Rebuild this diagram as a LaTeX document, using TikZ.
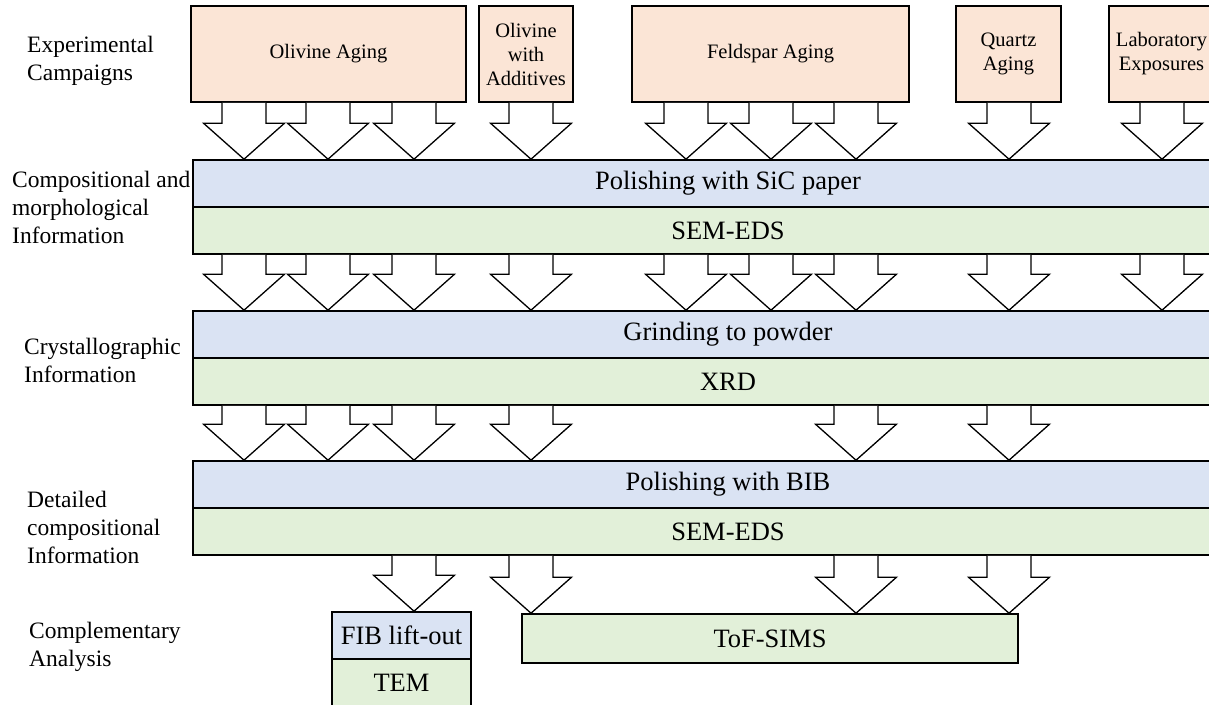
\documentclass[tikz,border=0pt]{standalone}
\usepackage{fontspec}
\setmainfont{Liberation Serif}
\usetikzlibrary{calc}

\definecolor{campfill}{HTML}{FBE5D6}
\definecolor{prepfill}{HTML}{DAE3F3}
\definecolor{measfill}{HTML}{E2F0D9}

\tikzset{
  box/.style={draw=black, line width=1.6pt, inner sep=0pt, align=center},
  campbox/.style={box, fill=campfill, font=\fontsize{20.5}{24}\selectfont},
  prepbox/.style={box, fill=prepfill, font=\fontsize{26.5}{30}\selectfont},
  measbox/.style={box, fill=measfill, font=\fontsize{26.5}{30}\selectfont},
  rowlabel/.style={anchor=west, align=left, inner sep=0pt, font=\fontsize{23.5}{28}\selectfont},
  blockarrow/.style={draw=black, fill=white, line width=1.3pt, line join=miter},
}

% hollow block arrow at x=#1 from node #2 down to node #3
\newcommand{\blockarr}[3]{%
  \draw[blockarrow] let \p1=(#2.south), \p2=(#3.north) in
    ({(#1-22)*1pt},\y1) -- ({(#1-22)*1pt},\y2+36pt) -- ({(#1-40.5)*1pt},\y2+36pt)
    -- ({#1*1pt},\y2) -- ({(#1+40.5)*1pt},\y2+36pt) -- ({(#1+22)*1pt},\y2+36pt)
    -- ({(#1+22)*1pt},\y1);
}

\begin{document}
\begin{tikzpicture}[x=1pt, y=-1pt]
  \useasboundingbox (0,0) rectangle (1209,704);
  \clip (0,0) rectangle (1209,704);

  % row labels
  \node[rowlabel] (lblexp) at (27,61) {Experimental\\Campaigns};
  \node[rowlabel] (lblcomp) at (12,207) {Compositional and\\morphological\\Information};
  \node[rowlabel] (lblcryst) at (24,360) {Crystallographic\\Information};
  \node[rowlabel] (lbldet) at (27,527) {Detailed\\compositional\\Information};
  \node[rowlabel] (lblcompl) at (29,647) {Complementary\\Analysis};

  % experimental campaigns
  \node[campbox, minimum width=275pt, minimum height=96pt] (olvage) at (328.5,54) {Olivine Aging};
  \node[campbox, minimum width=94pt, minimum height=96pt] (olvadd) at (526,54) {Olivine\\with\\Additives};
  \node[campbox, minimum width=277pt, minimum height=96pt] (feldage) at (770.5,54) {Feldspar Aging};
  \node[campbox, minimum width=105pt, minimum height=96pt] (qtzage) at (1008.5,54) {Quartz\\Aging};
  \node[campbox, minimum width=105pt, minimum height=96pt] (labexp) at (1161.5,54) {Laboratory\\Exposures};

  % preparation / measurement bands
  \node[prepbox, minimum width=1070pt, minimum height=47pt] (sic) at (728,183.5) {Polishing with SiC paper};
  \node[measbox, minimum width=1070pt, minimum height=47pt] (semfirst) at (728,230.5) {SEM-EDS};
  \node[prepbox, minimum width=1070pt, minimum height=47pt] (grind) at (728,334.5) {Grinding to powder};
  \node[measbox, minimum width=1070pt, minimum height=47pt] (xrd) at (728,381.5) {XRD};
  \node[prepbox, minimum width=1070pt, minimum height=47pt] (bib) at (728,484.5) {Polishing with BIB};
  \node[measbox, minimum width=1070pt, minimum height=47pt] (semsecond) at (728,531.5) {SEM-EDS};

  % complementary analysis
  \node[prepbox, minimum width=139pt, minimum height=47pt] (fib) at (401.5,635.5) {FIB lift-out};
  \node[measbox, minimum width=139pt, minimum height=47pt] (tem) at (401.5,682.5) {TEM};
  \node[measbox, minimum width=496pt, minimum height=49pt] (tof) at (770,638.5) {ToF-SIMS};

  % arrows
  \foreach \ax in {244,328,414} {\blockarr{\ax}{olvage}{sic}}
  \blockarr{531}{olvadd}{sic}
  \foreach \ax in {686,771,856} {\blockarr{\ax}{feldage}{sic}}
  \blockarr{1009}{qtzage}{sic}
  \blockarr{1162}{labexp}{sic}
  \foreach \ax in {244,328,414,531,686,771,856,1009,1162} {\blockarr{\ax}{semfirst}{grind}}
  \foreach \ax in {244,328,414,531,856,1009} {\blockarr{\ax}{xrd}{bib}}
  \blockarr{414}{semsecond}{fib}
  \foreach \ax in {531,856,1009} {\blockarr{\ax}{semsecond}{tof}}
\end{tikzpicture}
\end{document}
